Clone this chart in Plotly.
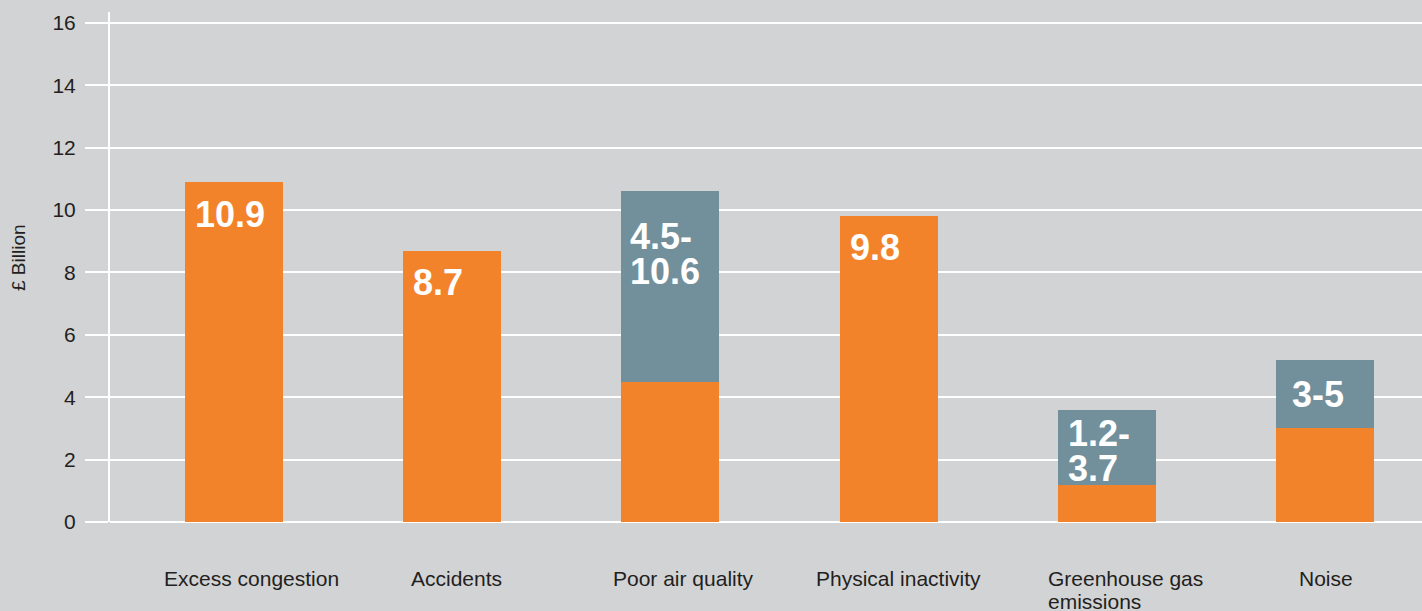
import plotly.graph_objects as go

# ---- data ----
categories = ["Excess congestion", "Accidents", "Poor air quality",
              "Physical inactivity", "Greenhouse gas<br>emissions", "Noise"]
low_values = [10.9, 8.7, 4.5, 9.8, 1.2, 3.0]
high_values = [10.9, 8.7, 10.6, 9.8, 3.6, 5.2]
bar_labels = ["10.9", "8.7", "4.5-<br>10.6", "9.8", "1.2-<br>3.7", "3-5"]
y_ticks = [0, 2, 4, 6, 8, 10, 12, 14, 16]

# ---- style ----
ORANGE = "#F3832B"
GREY = "#728F9C"
BG = "#D2D3D5"
TEXT = "#231F20"
FONT = "Liberation Sans, Arial, Helvetica, sans-serif"
label_top_offsets = [17, 16, 30, 16, 8, 19]   # px from bar top to label
label_x_offsets = [10, 10, 9, 10, 10, 16]      # px from bar left edge
cat_left_shifts = [-72, -43, -59, -75, -61, -28]  # px from bar centre to label left
BAR_W = 0.449
BAR_PX = 98

x = list(range(len(categories)))
range_part = [h - l for h, l in zip(high_values, low_values)]

fig = go.Figure()
fig.add_trace(go.Bar(x=x, y=low_values, width=BAR_W, marker_color=ORANGE,
                     marker_line_width=0, hoverinfo="skip"))
fig.add_trace(go.Bar(x=x, y=range_part, width=BAR_W, marker_color=GREY,
                     marker_line_width=0, hoverinfo="skip"))

annotations = []
for i, (lab, top) in enumerate(zip(bar_labels, high_values)):
    for j, line in enumerate(lab.split("<br>")):
        annotations.append(dict(
            x=i, y=top, xref="x", yref="y", text=line, showarrow=False,
            xanchor="left", yanchor="top",
            xshift=-BAR_PX / 2 + label_x_offsets[i] - 2,
            yshift=-(label_top_offsets[i] - 7) - j * 35,
            font=dict(family=FONT, size=36, color="white", weight="bold"),
        ))

for i, cat in enumerate(categories):
    for j, line in enumerate(cat.split("<br>")):
        annotations.append(dict(
            x=i, y=0, xref="x", yref="paper", text=line, showarrow=False,
            xanchor="left", yanchor="top",
            xshift=cat_left_shifts[i], yshift=-43 - j * 23,
            font=dict(family=FONT, size=21, color=TEXT),
        ))

annotations.append(dict(
    x=0, y=0.5, xref="paper", yref="paper", text="£ Billion", showarrow=False,
    textangle=-90, xanchor="center", yanchor="middle", xshift=-92, yshift=9,
    font=dict(family=FONT, size=19, color=TEXT),
))

fig.update_layout(
    width=1422, height=611,
    margin=dict(l=110, r=0, t=12, b=89, pad=0),
    paper_bgcolor=BG, plot_bgcolor=BG,
    barmode="stack", bargap=0, showlegend=False,
    font=dict(family=FONT, size=21, color=TEXT),
    annotations=annotations,
    xaxis=dict(range=[-0.568, 5.445], showticklabels=False, showgrid=False,
               zeroline=False, showline=False, ticks=""),
    yaxis=dict(range=[0, 16.35], tickvals=y_ticks, showgrid=True,
               gridcolor="white", gridwidth=2, zeroline=True,
               zerolinecolor="white", zerolinewidth=2,
               showline=True, linecolor="white", linewidth=2,
               ticks="outside", ticklen=23, tickcolor="white", tickwidth=2,
               ticklabelstandoff=5,
               tickfont=dict(family=FONT, size=21, color=TEXT)),
)

fig.write_html("out.html")
